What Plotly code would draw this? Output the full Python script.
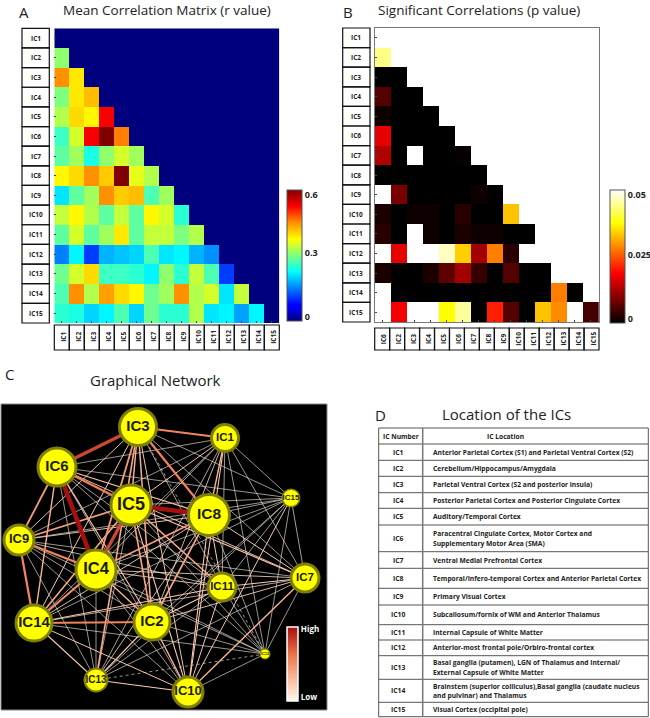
import plotly.graph_objects as go

W, H = 650, 718

ic_names = [f"IC{i}" for i in range(1, 16)]
b_col_labels = ["IC6", "IC2", "IC3", "IC4", "IC5", "IC6", "IC7", "IC8", "IC9", "IC10", "IC11", "IC12", "IC13", "IC14", "IC15"]

# lower triangle of the mean correlation matrix, rows IC2..IC15
r_rows = [
    [0.31],
    [0.45, 0.39],
    [0.30, 0.39, 0.42],
    [0.33, 0.40, 0.38, 0.53],
    [0.26, 0.35, 0.53, 0.60, 0.46],
    [0.28, 0.32, 0.24, 0.31, 0.35, 0.32],
    [0.38, 0.40, 0.45, 0.41, 0.60, 0.36, 0.33],
    [0.21, 0.28, 0.32, 0.45, 0.41, 0.42, 0.27, 0.32],
    [0.34, 0.38, 0.33, 0.28, 0.34, 0.28, 0.38, 0.35, 0.25],
    [0.28, 0.35, 0.28, 0.32, 0.39, 0.28, 0.34, 0.34, 0.30, 0.33],
    [0.15, 0.22, 0.11, 0.18, 0.19, 0.20, 0.27, 0.21, 0.22, 0.18, 0.16],
    [0.29, 0.35, 0.40, 0.26, 0.26, 0.25, 0.22, 0.31, 0.25, 0.34, 0.27, 0.11],
    [0.27, 0.45, 0.33, 0.44, 0.40, 0.38, 0.29, 0.32, 0.45, 0.33, 0.35, 0.21, 0.34],
    [0.25, 0.24, 0.20, 0.22, 0.27, 0.20, 0.29, 0.25, 0.25, 0.33, 0.21, 0.22, 0.17, 0.22],
]

# p values, rows IC2..IC15 (0.05 = not significant, drawn white)
p_rows = [
    [0.044],
    [0.0, 0.0],
    [0.006, 0.0, 0.0],
    [0.001, 0.0, 0.0, 0.0],
    [0.017, 0.0, 0.0, 0.0, 0.0],
    [0.013, 0.0, 0.05, 0.0, 0.0, 0.0005],
    [0.0, 0.0, 0.0, 0.0, 0.0, 0.0, 0.0],
    [0.05, 0.009, 0.0, 0.0, 0.0, 0.0, 0.001, 0.0],
    [0.002, 0.0, 0.001, 0.001, 0.0, 0.003, 0.0, 0.0, 0.033],
    [0.003, 0.0, 0.05, 0.001, 0.0, 0.002, 0.001, 0.001, 0.0, 0.0],
    [0.05, 0.017, 0.05, 0.05, 0.047, 0.034, 0.012, 0.028, 0.003, 0.05, 0.05],
    [0.002, 0.0, 0.0, 0.002, 0.007, 0.012, 0.004, 0.0, 0.006, 0.0, 0.0, 0.05],
    [0.05, 0.0, 0.0, 0.0, 0.0, 0.0, 0.0, 0.0, 0.0, 0.0, 0.0, 0.028, 0.0],
    [0.05, 0.018, 0.05, 0.05, 0.0375, 0.045, 0.0, 0.021, 0.006, 0.0, 0.033, 0.029, 0.05, 0.005],
]

# graph layout of the network nodes (IC1..IC15)
node_x = [224, 151, 137, 95, 130, 56, 304, 208, 18, 187, 221, 264, 95, 33, 290]
node_y = [34, 218, 23, 166, 101, 63, 174, 111, 136, 288, 183, 250, 276, 219, 94]
node_size = [30, 39, 40, 43, 43, 41, 31, 44, 33, 33, 31, 11, 25, 39, 19]
node_font = [11.5, 15, 15, 16.5, 18, 15, 11.5, 15.5, 13, 13, 11.5, 4, 10, 15, 8]
node_line = [3, 3, 3, 3, 3, 3, 3, 3, 3, 3, 3, 1, 2, 3, 1.5]

table_header = ["IC Number", "IC Location"]
table_locations = [
    ["Anterior Parietal Cortex (S1) and Parietal Ventral Cortex (S2)"],
    ["Cerebellum/Hippocampus/Amygdala"],
    ["Parietal Ventral Cortex (S2 and posterior insula)"],
    ["Posterior Parietal Cortex and Posterior Cingulate Cortex"],
    ["Auditory/Temporal Cortex"],
    ["Paracentral Cingulate Cortex, Motor Cortex and", "Supplementary Motor Area (SMA)"],
    ["Ventral Medial Prefrontal Cortex"],
    ["Temporal/Infero-temporal Cortex and Anterior Parietal Cortex"],
    ["Primary Visual Cortex"],
    ["Subcallosum/fornix of WM and Anterior Thalamus"],
    ["Internal Capsule of White Matter"],
    ["Anterior-most frontal pole/Orbiro-frontal cortex"],
    ["Basal ganglia (putamen), LGN of Thalamus and Internal/", "External Capsule of White Matter"],
    ["Brainstem (superior colliculus),Basal ganglia (caudate nucleus", "and pulvinar) and Thalamus"],
    ["Visual Cortex (occipital pole)"],
]

JET = [[0, "#00007f"], [0.11, "#0000ff"], [0.125, "#0000ff"], [0.375, "#00ffff"], [0.5, "#7fff7f"],
       [0.625, "#ffff00"], [0.75, "#ff9000"], [0.875, "#ff0000"], [1, "#7f0000"]]
HOT = [[0, "#000000"], [0.375, "#ff0000"], [0.75, "#ffff00"], [1, "#ffffff"]]
EDGE = [[0, "#fff8e8"], [0.35, "#f8b090"], [0.6, "#ee7a50"], [1, "#a80f0f"]]


def px(x):
    return x / W


def py(y):
    return 1 - y / H


def lerp_colour(scale, t):
    t = max(0.0, min(1.0, t))
    for (a, ca), (b, cb) in zip(scale, scale[1:]):
        if t <= b:
            f = (t - a) / (b - a)
            rgb = [int(ca[i:i + 2], 16) * (1 - f) + int(cb[i:i + 2], 16) * f for i in (1, 3, 5)]
            return "rgb(%d,%d,%d)" % tuple(rgb)
    return scale[-1][1]


z_a = [[0.0] * 15] + [row + [0.0] * (15 - len(row)) for row in r_rows]
z_b = [[None] * 14] + [row + [None] * (14 - len(row)) for row in p_rows]

fig = go.Figure()

fig.add_trace(go.Heatmap(
    z=z_a, x=ic_names, y=ic_names, xaxis="x", yaxis="y", colorscale=JET, zmin=0, zmax=0.6, xgap=0, ygap=0,
    colorbar=dict(x=px(286.7), xanchor="left", y=py(190), yanchor="top", len=131, lenmode="pixels",
                  thickness=15, thicknessmode="pixels", xpad=0, ypad=0, outlinecolor="#555", outlinewidth=1,
                  tickvals=[0.018, 0.311, 0.577], ticktext=["0", "0.3", "0.6"], ticks="",
                  tickfont=dict(family="Open Sans", size=9, color="#222", weight="bold"))))

fig.add_trace(go.Heatmap(
    z=z_b, x=list(range(14)), y=ic_names, xaxis="x2", yaxis="y2", colorscale=HOT, zmin=0, zmax=0.05, hoverongaps=False,
    colorbar=dict(x=px(610), xanchor="left", y=py(190), yanchor="top", len=132.7, lenmode="pixels",
                  thickness=15, thicknessmode="pixels", xpad=0, ypad=0, outlinecolor="#555", outlinewidth=1,
                  tickvals=[0.0015, 0.0255, 0.048], ticktext=["0", "0.025", "0.05"], ticks="",
                  tickfont=dict(family="Open Sans", size=9, color="#222", weight="bold"))))

# network edges: every pair, styled from its mean correlation
edges = []
for i, r_row in enumerate(r_rows):
    for j, r in enumerate(r_row):
        edges.append((r, i + 1, j))
edges.sort()
for r, a, b in edges:
    t = max((r - 0.27) / 0.33, 0.0)
    fig.add_trace(go.Scatter(
        x=[node_x[a], node_x[b]], y=[node_y[a], node_y[b]], xaxis="x3", yaxis="y3", mode="lines",
        line=dict(color=lerp_colour(EDGE, t), width=0.6 + 3.8 * t ** 1.4, dash="dot" if r < 0.13 else "solid"),
        hoverinfo="skip", showlegend=False))

fig.add_trace(go.Scatter(
    x=node_x, y=node_y, xaxis="x3", yaxis="y3", mode="markers+text", text=ic_names,
    textposition="middle center",
    textfont=dict(family="Liberation Sans", size=node_font, color="#1c1c00", weight="bold"),
    marker=dict(size=[s - w for s, w in zip(node_size, node_line)], color="#ffff00",
                line=dict(color="#7f7f00", width=node_line), opacity=1),
    hoverinfo="text", showlegend=False))

# High/Low colour key
fig.add_trace(go.Scatter(
    x=[None], y=[None], xaxis="x3", yaxis="y3", mode="markers", showlegend=False, hoverinfo="skip",
    marker=dict(color=[0], cmin=0, cmax=1, colorscale=EDGE, showscale=True,
                colorbar=dict(x=px(287), xanchor="left", y=py(626.5), yanchor="top", len=74, lenmode="pixels",
                              thickness=11, thicknessmode="pixels", xpad=0, ypad=0, outlinecolor="#ffffff",
                              outlinewidth=1.5, tickvals=[0.04, 0.96], ticktext=["Low", "High"], ticks="",
                              tickfont=dict(family="Open Sans", size=8, color="#ffffff", weight="bold")))))

ann = []
shapes = []


def label(x, y, text, size, family="Open Sans", color="#222", anchor="center", weight="normal", angle=0):
    ann.append(dict(x=px(x), y=py(y), xref="paper", yref="paper", text=text, showarrow=False, xanchor=anchor,
                    yanchor="middle", textangle=angle, font=dict(family=family, size=size, color=color, weight=weight)))


def box(x0, y0, x1, y1, color="#111", width=1.2):
    shapes.append(dict(type="rect", xref="paper", yref="paper", x0=px(x0), x1=px(x1), y0=py(y0), y1=py(y1),
                       line=dict(color=color, width=width)))


def hline(x0, x1, y, color="#555", width=1):
    shapes.append(dict(type="line", xref="paper", yref="paper", x0=px(x0), x1=px(x1), y0=py(y), y1=py(y),
                       line=dict(color=color, width=width)))


# panel letters and titles
label(24, 12, "A", 15)
label(166.5, 10, "Mean Correlation Matrix (r value)", 13.5)
label(348, 12, "B", 15)
label(479, 10, "Significant Correlations (p value)", 13.5)
label(9, 374, "C", 15)
label(155, 380, "Graphical Network", 15)
label(380, 415, "D", 15)
label(506, 414, "Location of the ICs", 15)

# row and column label boxes of A
row_h_a = (323 - 28.3) / 15
for i, name in enumerate(ic_names):
    box(22, 28.3 + i * row_h_a, 49.3, 28.3 + (i + 1) * row_h_a)
    label(35.5, 28.3 + (i + 0.5) * row_h_a, name, 6.5, weight="bold")
    box(54.3 + i * 15, 325, 54.3 + (i + 1) * 15, 350)
    label(54.3 + (i + 0.5) * 15 + 1, 337, name, 6.5, angle=-90, weight="bold")

# row and column label boxes of B
row_h_b = (322 - 28) / 15
col_w_b = (599 - 374.7) / 15
for i, name in enumerate(ic_names):
    box(342.7, 28 + i * row_h_b, 370, 28 + (i + 1) * row_h_b)
    label(356, 28 + (i + 0.5) * row_h_b, name, 6.5, weight="bold")
    box(374.7 + i * col_w_b, 328, 374.7 + (i + 1) * col_w_b, 350)
    label(374.7 + (i + 0.5) * col_w_b + 1, 339, b_col_labels[i], 6.5, angle=-90, weight="bold")

# location table
t_x0, t_xm, t_x1 = 378.7, 422.7, 648.3
row_lines = [428, 444, 460.3, 476.3, 492.7, 508.3, 525, 551.7, 568.3, 588.3, 605, 624.7, 640, 655.7, 679.3, 702.3, 716.7]
for y in row_lines:
    hline(t_x0, t_x1, y)
shapes.append(dict(type="line", xref="paper", yref="paper", x0=px(t_x0), x1=px(t_x0), y0=py(row_lines[0]),
                   y1=py(row_lines[-1]), line=dict(color="#555", width=1)))
shapes.append(dict(type="line", xref="paper", yref="paper", x0=px(t_x1), x1=px(t_x1), y0=py(row_lines[0]),
                   y1=py(row_lines[-1]), line=dict(color="#555", width=1)))
shapes.append(dict(type="line", xref="paper", yref="paper", x0=px(t_xm), x1=px(t_xm), y0=py(row_lines[0]),
                   y1=py(row_lines[-1]), line=dict(color="#777", width=1.5)))
label(400.7, 436, table_header[0], 6.7, weight="bold")
label(505, 436, table_header[1], 6.7, weight="bold")
for i, (name, lines) in enumerate(zip(ic_names, table_locations)):
    yc = (row_lines[i + 1] + row_lines[i + 2]) / 2
    label(398, yc, name, 6.8, weight="bold")
    for k, txt in enumerate(lines):
        dy = (k - (len(lines) - 1) / 2) * 9.4
        label(431, yc + dy, txt, 6.7, anchor="left", weight="bold")

fig.update_layout(
    width=W, height=H, autosize=False, margin=dict(l=0, r=0, t=0, b=0), paper_bgcolor="white", plot_bgcolor="white",
    xaxis=dict(domain=[px(54.3), px(279.3)], anchor="y", type="category", showticklabels=False, ticks="inside",
               ticklen=2, tickcolor="#444", showgrid=False, zeroline=False),
    yaxis=dict(domain=[py(323), py(28.3)], anchor="x", type="category", autorange="reversed", showticklabels=False,
               ticks="inside", ticklen=2, tickcolor="#444", showgrid=False, zeroline=False),
    xaxis2=dict(domain=[px(374.7), px(599)], anchor="y2", showticklabels=False, ticks="inside", ticklen=2,
                tickcolor="#444", tickmode="linear", dtick=1, showgrid=False, zeroline=False, range=[-0.5, 13.5],
                showline=True, mirror=True, linecolor="#777", linewidth=1),
    yaxis2=dict(domain=[py(322), py(28)], anchor="x2", type="category", autorange="reversed", showticklabels=False,
                ticks="inside", ticklen=2, tickcolor="#444", showgrid=False, zeroline=False,
                showline=True, mirror=True, linecolor="#777", linewidth=1),
    xaxis3=dict(domain=[px(1), px(327)], anchor="y3", range=[0, 326], visible=False),
    yaxis3=dict(domain=[py(710), py(404)], anchor="x3", range=[306, 0], visible=False),
    annotations=ann, shapes=shapes,
)
# black panel behind the network
fig.layout.shapes = [dict(type="rect", xref="paper", yref="paper", x0=px(1), x1=px(327), y0=py(710), y1=py(404),
                          fillcolor="#000000", line=dict(color="#888", width=1), layer="below")] + list(fig.layout.shapes)

fig.write_html("out.html", config={"displayModeBar": False},
               post_script="document.body.style.margin='0';document.body.style.overflow='hidden';")
